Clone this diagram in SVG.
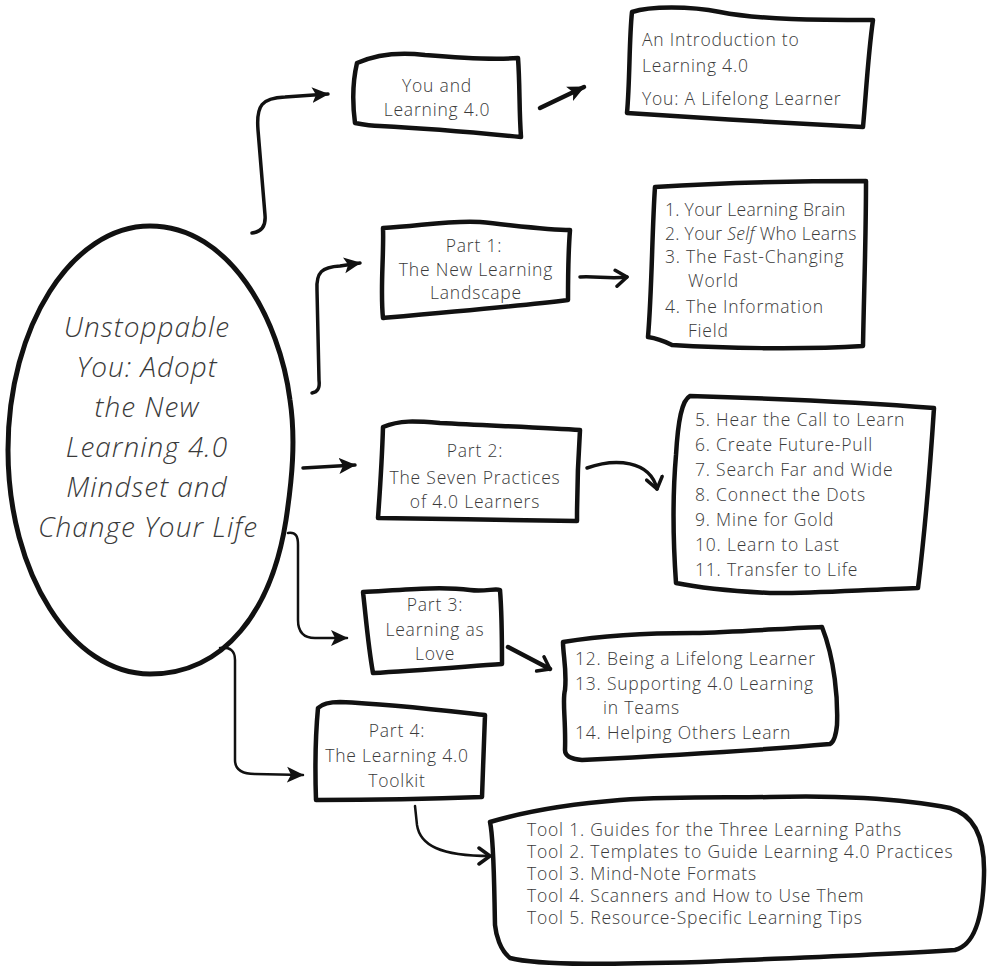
<svg xmlns="http://www.w3.org/2000/svg" width="987" height="968" viewBox="0 0 987 968">
<style>
.box{fill:none;stroke:#111;stroke-width:4.5;stroke-linejoin:round;stroke-linecap:round}
.oval{fill:none;stroke:#111;stroke-width:5}
.con{fill:none;stroke:#111;stroke-width:3.5;stroke-linecap:round;stroke-linejoin:round}
.t{font-family:"Open Sans",Lato,"Liberation Sans",sans-serif;font-weight:300;font-size:17.5px;letter-spacing:0.8px;fill:#3a3a3a}
.c{text-anchor:middle}
.big{font-size:28px;font-style:italic;letter-spacing:1px}
.tight{letter-spacing:0.3px}
</style>
<defs>
<marker id="tri" markerUnits="userSpaceOnUse" markerWidth="20" markerHeight="18" refX="16" refY="9" orient="auto">
<path d="M0,1 L17,9 L0,17 L4,9 Z" fill="#111"/>
</marker>
<marker id="chev" markerUnits="userSpaceOnUse" markerWidth="18" markerHeight="20" refX="13" refY="10" orient="auto">
<path d="M2,2 L13,10 L2,18" fill="none" stroke="#111" stroke-width="3.5" stroke-linecap="round" stroke-linejoin="round"/>
</marker>
</defs>

<g id="connectors">
<path class="con" d="M252,233 C262,232 266,226 265,215 L258,130 C256,105 262,98 285,97 L328,94" marker-end="url(#tri)"/>
<path class="con" d="M312,393 C318,392 320,388 319,380 L317,290 C316,272 322,267 340,266 L360,263" marker-end="url(#tri)"/>
<path class="con" d="M303,468 L355,465" marker-end="url(#tri)"/>
<path class="con" style="stroke-width:2.5" d="M288,533 C296,532 298,536 298,545 L298,620 C298,632 304,638 315,638 L347,638" marker-end="url(#tri)"/>
<path class="con" style="stroke-width:2.5" d="M220,648 C230,647 235,650 235,660 L235,760 C235,770 242,774 255,774 L303,775" marker-end="url(#tri)"/>
<path class="con" style="stroke-width:4.5" d="M540,108 L584,87" marker-end="url(#tri)"/>
<path class="con" d="M580,277 C595,276 610,279 627,277" marker-end="url(#chev)"/>
<path class="con" d="M587,468 C615,458 650,460 657,489" marker-end="url(#chev)"/>
<path class="con" style="stroke-width:4.5" d="M508,647 L550,669" marker-end="url(#chev)"/>
<path class="con" style="stroke-width:2.5" d="M415,806 L417,825 C420,845 440,856 490,856" marker-end="url(#chev)"/>
</g>

<g id="main">
<path class="oval" d="M150,226 C230,226 280,320 290,400 C296,440 292,480 286,520 C272,610 225,674 150,674 C72,674 8,574 8,450 C8,326 72,226 150,226 Z"/>
<text class="t c big" x="147" y="337">Unstoppable</text>
<text class="t c big" x="147" y="377">You: Adopt</text>
<text class="t c big" x="147" y="417">the New</text>
<text class="t c big" x="147" y="457">Learning 4.0</text>
<text class="t c big" x="147" y="497">Mindset and</text>
<text class="t c big" x="148" y="537">Change Your Life</text>
</g>

<g id="you-and">
<path class="box" d="M357,63 C375,55 400,52 425,55 C460,58 490,60 518,58 C520,85 519,110 521,137 C480,133 420,128 380,126 C370,126 360,124 355,123 C352,100 353,80 357,63 Z"/>
<text class="t c" x="437" y="92">You and</text>
<text class="t c" x="437" y="116">Learning 4.0</text>
</g>

<g id="intro">
<path class="box" d="M632,12 C650,6 690,6 720,12 C760,20 820,20 873,20 C868,55 866,95 863,127 C800,124 700,118 627,113 C630,80 629,40 632,12 Z"/>
<text class="t" x="642" y="46">An Introduction to</text>
<text class="t" x="642" y="72">Learning 4.0</text>
<text class="t" x="642" y="105">You: A Lifelong Learner</text>
</g>

<g id="part1">
<path class="box" d="M383,228 C420,226 450,220 480,222 C520,226 550,230 570,230 C568,255 568,275 568,300 C520,306 440,313 383,318 C380,290 384,255 383,228 Z"/>
<text class="t c" x="474" y="252">Part 1:</text>
<text class="t c" x="476" y="276">The New Learning</text>
<text class="t c" x="476" y="299">Landscape</text>
</g>

<g id="list1">
<path class="box" d="M655,187 C720,183 800,181 866,181 C866,240 864,290 863,346 C800,350 720,348 672,345 C662,340 655,338 648,337 C652,290 652,230 655,187 Z"/>
<text class="t tight" x="665" y="216">1.  Your Learning Brain</text>
<text class="t tight" x="665" y="240">2. Your <tspan font-style="italic">Self</tspan> Who Learns</text>
<text class="t" x="665" y="263">3. The Fast-Changing</text>
<text class="t" x="688" y="287">World</text>
<text class="t" x="665" y="313">4. The Information</text>
<text class="t" x="688" y="337">Field</text>
</g>

<g id="part2">
<path class="box" d="M383,427 C400,420 415,421 440,423 C500,426 550,428 580,430 C578,460 577,490 577,521 C520,520 440,519 378,518 C380,490 382,460 383,427 Z"/>
<text class="t c" x="475" y="457">Part 2:</text>
<text class="t c" x="475" y="484">The Seven Practices</text>
<text class="t c" x="475" y="508">of 4.0 Learners</text>
</g>

<g id="list2">
<path class="box" d="M690,396 C760,398 860,402 934,408 C930,470 925,530 918,588 C860,590 800,594 770,593 C730,591 700,588 676,583 C673,540 673,490 676,455 C678,420 682,400 690,396 Z"/>
<text class="t" x="695" y="426">5.  Hear the Call to Learn</text>
<text class="t" x="695" y="451">6.  Create Future-Pull</text>
<text class="t" x="695" y="476">7.   Search Far and Wide</text>
<text class="t" x="695" y="501">8.  Connect the Dots</text>
<text class="t" x="695" y="526">9.   Mine for Gold</text>
<text class="t" x="695" y="551">10. Learn to Last</text>
<text class="t" x="695" y="576">11.   Transfer to Life</text>
</g>

<g id="part3">
<path class="box" d="M363,592 C400,590 440,586 470,590 C485,592 495,588 500,590 C502,615 502,640 502,664 C460,667 410,671 373,673 C368,645 366,618 363,592 Z"/>
<text class="t c" x="435" y="611">Part 3:</text>
<text class="t c" x="435" y="636">Learning as</text>
<text class="t c" x="435" y="660">Love</text>
</g>

<g id="list3">
<path class="box" d="M563,642 C600,636 640,633 693,633 C740,632 790,628 822,627 C835,660 838,700 837,725 C836,735 834,742 830,744 C760,750 660,756 582,760 C570,759 565,755 565,750 C566,720 562,700 565,690 C567,670 563,655 563,642 Z"/>
<text class="t" x="575" y="665">12. Being a Lifelong Learner</text>
<text class="t" x="575" y="690">13. Supporting 4.0 Learning</text>
<text class="t" x="603" y="714">in Teams</text>
<text class="t" x="575" y="739">14. Helping Others Learn</text>
</g>

<g id="part4">
<path class="box" d="M318,708 C322,704 328,702 340,702 C390,704 440,710 485,715 C484,740 483,770 482,797 C430,799 370,800 316,800 C315,770 315,740 318,708 Z"/>
<text class="t c" x="397" y="737">Part 4:</text>
<text class="t c" x="397" y="762">The Learning 4.0</text>
<text class="t c" x="397" y="787">Toolkit</text>
</g>

<g id="tools">
<path class="box" d="M490,822 C530,810 570,804 620,800 C680,796 730,798 770,797 C830,795 900,798 950,808 C975,815 985,840 984,875 C983,915 975,945 955,950 C880,955 790,958 700,962 C620,964 540,966 510,958 C500,950 496,935 495,925 C494,880 494,840 490,822 Z"/>
<text class="t" x="527" y="836">Tool 1. Guides for the Three Learning Paths</text>
<text class="t" x="527" y="858">Tool 2. Templates to Guide Learning 4.0 Practices</text>
<text class="t" x="527" y="880">Tool 3. Mind-Note Formats</text>
<text class="t" x="527" y="902">Tool 4. Scanners and How to Use Them</text>
<text class="t" x="527" y="924">Tool 5. Resource-Specific Learning Tips</text>
</g>
</svg>
